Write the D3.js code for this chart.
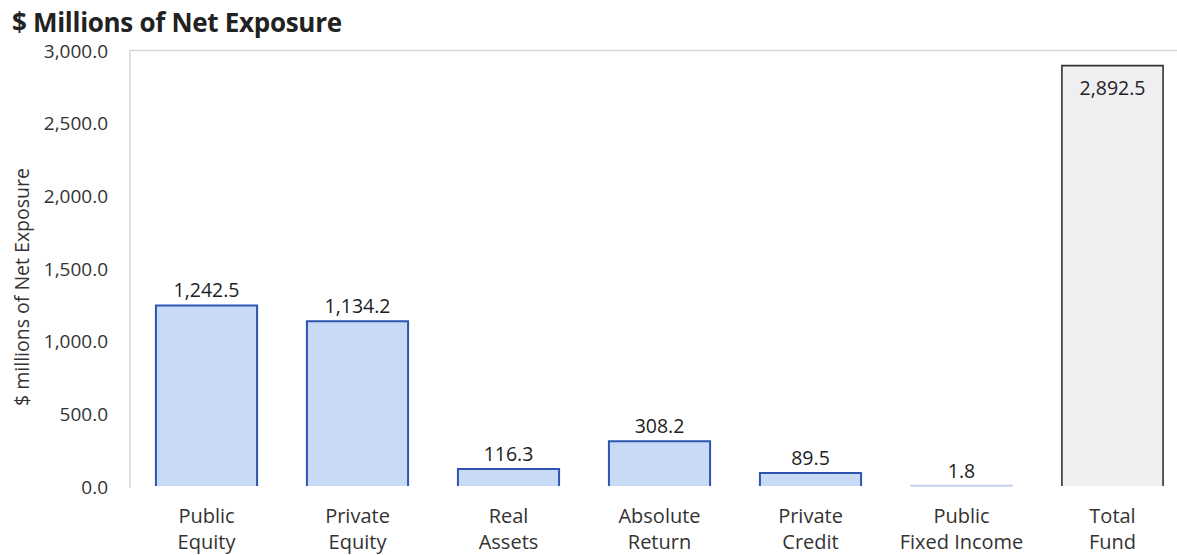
<!DOCTYPE html>
<html>
<head>
<meta charset="utf-8">
<script src="https://cdn.jsdelivr.net/npm/d3@7"></script>
<style>
  html, body { margin: 0; padding: 0; background: #fff; }
  svg { display: block; font-family: "Open Sans", "Noto Sans", sans-serif; }
</style>
</head>
<body>
<svg id="chart" width="1177" height="555"></svg>
<script>
// Net exposure by asset class, $ millions
const categories = [
  ["Public", "Equity"],
  ["Private", "Equity"],
  ["Real", "Assets"],
  ["Absolute", "Return"],
  ["Private", "Credit"],
  ["Public", "Fixed Income"],
  ["Total", "Fund"]
];
const values = [1242.5, 1134.2, 116.3, 308.2, 89.5, 1.8, 2892.5];
const yTicks = [0, 500, 1000, 1500, 2000, 2500, 3000];
const totalIndex = 6;

const svg = d3.select("#chart");
const W = 1177, H = 555;
const plotLeft = 131, plotRight = 1188, plotTop = 50, plotBottom = 486;

const x = d3.scaleBand()
  .domain(d3.range(categories.length))
  .range([plotLeft, plotRight])
  .paddingInner(0.33)
  .paddingOuter(0.165);

const y = d3.scaleLinear().domain([0, 3000]).range([plotBottom, plotTop]);

// Title
svg.append("text")
  .attr("x", 12).attr("y", 32)
  .attr("font-size", 26).attr("font-weight", 700)
  .attr("fill", "#222")
  .attr("letter-spacing", -0.3)
  .text("$ Millions of Net Exposure");

// Plot frame (top and left edges)
svg.append("line")
  .attr("x1", plotLeft - 1).attr("x2", W).attr("y1", plotTop + 0.5).attr("y2", plotTop + 0.5)
  .attr("stroke", "#d6d6d6").attr("stroke-width", 1.5);
svg.append("line")
  .attr("x1", plotLeft - 1).attr("x2", plotLeft - 1).attr("y1", plotTop).attr("y2", plotBottom + 2)
  .attr("stroke", "#d6d6d6").attr("stroke-width", 1.5);

// Y axis
const yAxis = d3.axisLeft(y)
  .tickValues(yTicks)
  .tickFormat(d3.format(",.1f"))
  .tickSize(0)
  .tickPadding(0);
const ya = svg.append("g")
  .attr("transform", `translate(${108},1)`)
  .call(yAxis);
ya.select(".domain").remove();
ya.selectAll("text")
  .attr("font-size", 19)
  .attr("font-family", "'Open Sans', sans-serif")
  .attr("fill", "#333");

// Y axis title
svg.append("text")
  .attr("transform", `translate(29, ${(plotTop + plotBottom) / 2 + 19}) rotate(-90)`)
  .attr("text-anchor", "middle")
  .attr("font-size", 19.5)
  .attr("fill", "#333")
  .text("$ millions of Net Exposure");

// Bars drawn open at the baseline
const barPath = (d, i) => {
  const x0 = x(i), x1 = x(i) + x.bandwidth();
  const yt = y(d), yb = y(0);
  return `M${x0},${yb}V${yt}H${x1}V${yb}`;
};

const bars = svg.append("g");
values.forEach((v, i) => {
  const isTotal = i === totalIndex;
  const h = y(0) - y(v);
  bars.append("rect")
    .attr("x", x(i)).attr("y", y(v))
    .attr("width", x.bandwidth())
    .attr("height", h)
    .attr("fill", isTotal ? "#efeff2" : "#c8daf6");
  bars.append("path")
    .attr("d", barPath(v, i))
    .attr("fill", "none")
    .attr("stroke", isTotal ? "#333" : "#2d55b0")
    .attr("stroke-opacity", h < 2 ? 0.25 : 1)
    .attr("stroke-width", isTotal ? 1.6 : 2);
});

// Value labels
const fmt = d3.format(",.1f");
values.forEach((v, i) => {
  const isTotal = i === totalIndex;
  svg.append("text")
    .attr("x", x(i) + x.bandwidth() / 2)
    .attr("y", isTotal ? y(v) + 29 : y(v) - 8)
    .attr("text-anchor", "middle")
    .attr("font-size", 19.5)
    .attr("fill", "#222")
    .text(fmt(v));
});

// Category labels
const xl = svg.append("g");
categories.forEach((c, i) => {
  const cx = x(i) + x.bandwidth() / 2;
  const t = xl.append("text")
    .attr("text-anchor", "middle")
    .attr("font-size", 20)
    .attr("fill", "#333");
  t.append("tspan").attr("x", cx).attr("y", 523).text(c[0]);
  t.append("tspan").attr("x", cx).attr("y", 549).text(c[1]);
});
</script>
</body>
</html>
